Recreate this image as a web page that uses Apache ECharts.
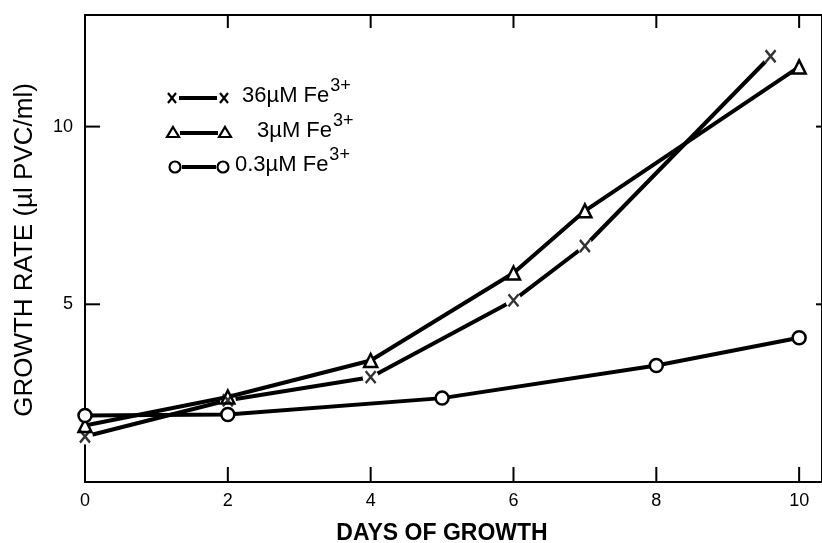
<!DOCTYPE html>
<html><head><meta charset="utf-8">
<script src="https://cdn.jsdelivr.net/npm/echarts@6/dist/echarts.min.js"></script>
<style>html,body{margin:0;padding:0;background:#fff}#c{width:822px;height:543px}</style>
</head><body><div id="c"></div>
<script>
// Data
const days36 = [0, 2, 4, 6, 7, 9.6];
const rate36 = [1.28, 2.3, 2.95, 5.11, 6.64, 11.98];
const days3 = [0, 2, 4, 6, 7, 10];
const rate3 = [1.59, 2.39, 3.42, 5.88, 7.63, 11.68];
const days03 = [0, 2, 5, 8, 10];
const rate03 = [1.87, 1.9, 2.36, 3.28, 4.06];
const xTickLabels = [0, 2, 4, 6, 8, 10];
const yTickLabels = [5, 10];
const seriesNames = ['36\u00B5M Fe', '3\u00B5M Fe', '0.3\u00B5M Fe'];
const xTitle = 'DAYS OF GROWTH';
const yTitle = 'GROWTH RATE (\u00B5l PVC/ml)';

const pair = (xs, ys) => xs.map((x, i) => [x, ys[i]]);
const FONT = '"Liberation Sans", Arial, sans-serif';
const XPATH = 'path://M0,0L10,12M10,0L0,12';
const X_MAX = 10.32, Y_MAX = 13.14;

const chart = echarts.init(document.getElementById('c'), null, {renderer: 'canvas'});

// legend graphics
const legendRows = [
  {y: 98, tx: 242, kind: 'x', x1: 172, x2: 224},
  {y: 133, tx: 257, kind: 't', x1: 173, x2: 225},
  {y: 167, tx: 235, kind: 'o', x1: 175, x2: 223}
];
const graphics = [];
legendRows.forEach((r, i) => {
  graphics.push({type: 'line', shape: {x1: r.x1 + 7, y1: r.y, x2: r.x2 - 7, y2: r.y}, style: {stroke: '#000', lineWidth: 4}});
  [r.x1, r.x2].forEach(cx => {
    if (r.kind === 'x') {
      graphics.push({type: 'polyline', shape: {points: [[cx - 4, r.y - 5], [cx + 4, r.y + 5]]}, style: {stroke: '#000', lineWidth: 2.2, fill: null}});
      graphics.push({type: 'polyline', shape: {points: [[cx + 4, r.y - 5], [cx - 4, r.y + 5]]}, style: {stroke: '#000', lineWidth: 2.2, fill: null}});
    } else if (r.kind === 't') {
      graphics.push({type: 'polygon', shape: {points: [[cx, r.y - 6], [cx + 6, r.y + 4], [cx - 6, r.y + 4]]}, style: {stroke: '#000', lineWidth: 2.2, fill: '#fff'}});
    } else {
      graphics.push({type: 'circle', shape: {cx: cx, cy: r.y, r: 5.5}, style: {stroke: '#000', lineWidth: 2.2, fill: '#fff'}});
    }
  });
  graphics.push({type: 'text', x: r.tx, y: r.y + 9, style: {
    text: '{m|' + seriesNames[i] + '}{s|3+}', fill: '#000', font: '22px ' + FONT,
    textVerticalAlign: 'bottom',
    rich: {m: {fontSize: 22, fontFamily: 'Liberation Sans', fill: '#000', verticalAlign: 'bottom'},
           s: {fontSize: 18, fontFamily: 'Liberation Sans', fill: '#000', verticalAlign: 'bottom', padding: [0, 0, 12, 1]}}
  }});
});
graphics.push({type: 'text', x: 25, y: 250, rotation: Math.PI / 2, style: {
  text: yTitle, fill: '#000', font: '26px ' + FONT, textAlign: 'center', textVerticalAlign: 'middle'}});
graphics.push({type: 'text', x: 442, y: 534, style: {
  text: xTitle, fill: '#000', font: 'bold 23px ' + FONT, textAlign: 'center', textVerticalAlign: 'middle'}});

const showX = v => xTickLabels.indexOf(v) >= 0 ? String(v) : '';
const showY = v => yTickLabels.indexOf(v) >= 0 ? String(v) : '';

const option = {
  backgroundColor: '#fff',
  animation: false,
  grid: {left: 85, right: -1, top: 15, bottom: 61, show: true, borderColor: '#000', borderWidth: 2, backgroundColor: 'transparent'},
  xAxis: {type: 'value', min: 0, max: X_MAX, interval: 2,
     axisLine: {show: false}, axisTick: {show: false},
     axisLabel: {color: '#000', fontSize: 18, fontFamily: 'Liberation Sans', margin: 10, formatter: showX, showMaxLabel: false},
     splitLine: {show: false}},
  yAxis: {type: 'value', min: 0, max: Y_MAX, interval: 5,
     axisLine: {show: false}, axisTick: {show: false},
     axisLabel: {color: '#000', fontSize: 18, fontFamily: 'Liberation Sans', margin: 12, formatter: showY, showMaxLabel: false},
     splitLine: {show: false}},
  series: [
    {type: 'line', data: pair(days36, rate36), symbol: 'circle', symbolSize: 16,
     itemStyle: {color: '#fff', borderWidth: 0}, lineStyle: {color: '#000', width: 4}, z: 2},
    {type: 'scatter', data: pair(days36, rate36), symbol: XPATH, symbolSize: [10, 12],
     itemStyle: {color: 'none', borderColor: '#000', borderWidth: 2.5}, z: 5},
    {type: 'line', data: pair(days3, rate3), symbol: 'triangle', symbolSize: 13,
     itemStyle: {color: '#fff', borderColor: '#000', borderWidth: 2.5}, lineStyle: {color: '#000', width: 4}, z: 3},
    {type: 'line', data: pair(days03, rate03), symbol: 'circle', symbolSize: 13,
     itemStyle: {color: '#fff', borderColor: '#000', borderWidth: 2.5}, lineStyle: {color: '#000', width: 4}, z: 4}
  ],
  graphic: graphics
};
chart.setOption(option);

// inward tick marks placed through the chart's own scales
const px = v => chart.convertToPixel({xAxisIndex: 0}, v);
const py = v => chart.convertToPixel({yAxisIndex: 0}, v);
const tickStroke = {stroke: '#000', lineWidth: 2};
const yBottom = py(0), yTop = py(Y_MAX), xLeft = px(0), xRight = px(X_MAX);
xTickLabels.forEach(v => {
  const x = px(v);
  graphics.push({type: 'line', shape: {x1: x, y1: yBottom, x2: x, y2: yBottom - 15}, style: tickStroke});
  if (v > 0) graphics.push({type: 'line', shape: {x1: x, y1: yTop, x2: x, y2: yTop + 13}, style: tickStroke});
});
yTickLabels.forEach(v => {
  const y = py(v);
  graphics.push({type: 'line', shape: {x1: xLeft, y1: y, x2: xLeft + 15, y2: y}, style: tickStroke});
  graphics.push({type: 'line', shape: {x1: xRight - 6, y1: y, x2: xRight, y2: y}, style: tickStroke});
});
chart.setOption({graphic: graphics});
</script></body></html>
